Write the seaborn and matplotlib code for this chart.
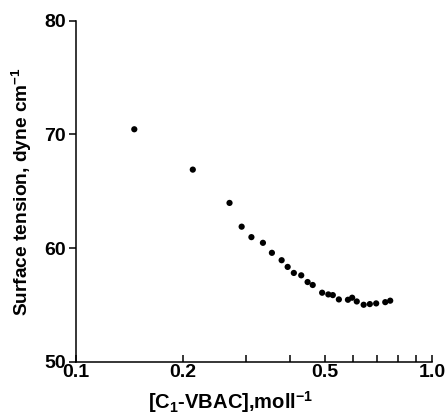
import numpy as np
import pandas as pd
import matplotlib
matplotlib.use("Agg")
import matplotlib.pyplot as plt
import matplotlib.ticker as mticker
import seaborn as sns

# Surface tension vs C1-VBAC concentration
concentration = [0.146, 0.213, 0.270, 0.292, 0.311, 0.335, 0.355, 0.378, 0.393,
                 0.409, 0.429, 0.447, 0.462, 0.491, 0.511, 0.526, 0.547, 0.580,
                 0.596, 0.614, 0.642, 0.668, 0.696, 0.738, 0.762]
surface_tension = [70.45, 66.9, 63.97, 61.88, 60.96, 60.46, 59.58, 58.93, 58.34,
                   57.81, 57.6, 57.01, 56.75, 56.07, 55.92, 55.86, 55.48, 55.45,
                   55.63, 55.3, 55.01, 55.07, 55.13, 55.24, 55.37]
x_major = [0.1, 0.2, 0.5, 1.0]
x_major_labels = ["0.1", "0.2", "0.5", "1.0"]
x_minor = [0.3, 0.4, 0.6, 0.7, 0.8, 0.9]
y_ticks = [50, 60, 70, 80]

df = pd.DataFrame({"conc": concentration, "gamma": surface_tension})

sns.set_style("ticks")
plt.rcParams["font.family"] = ["Liberation Sans", "DejaVu Sans"]
plt.rcParams["font.weight"] = "bold"
plt.rcParams["text.color"] = "black"
plt.rcParams["axes.labelcolor"] = "black"
plt.rcParams["xtick.color"] = "black"
plt.rcParams["ytick.color"] = "black"
plt.rcParams["mathtext.fontset"] = "custom"
plt.rcParams["mathtext.rm"] = "Liberation Sans:bold"
plt.rcParams["mathtext.bf"] = "Liberation Sans:bold"
plt.rcParams["mathtext.default"] = "bf"

fig = plt.figure(figsize=(4.46, 4.16), dpi=100)
ax = fig.add_axes([0.1697, 0.1305, 0.7996, 0.8197])

sns.scatterplot(data=df, x="conc", y="gamma", ax=ax, color="black",
                s=20, edgecolor="none", legend=False)

ax.set_xscale("log")
ax.set_xlim(0.1, 1.0)
ax.set_ylim(50, 80)
ax.xaxis.set_major_locator(mticker.FixedLocator(x_major))
ax.xaxis.set_major_formatter(mticker.FixedFormatter(x_major_labels))
ax.xaxis.set_minor_locator(mticker.FixedLocator(x_minor))
ax.xaxis.set_minor_formatter(mticker.NullFormatter())
ax.set_yticks(y_ticks)

ax.tick_params(axis="x", which="both", direction="in", length=5, width=1.1,
               labelsize=14, pad=2, colors="black")
ax.tick_params(axis="y", direction="out", length=5, width=1.1,
               labelsize=14, pad=2, colors="black")
for lab in ax.get_xticklabels() + ax.get_yticklabels():
    lab.set_fontweight("bold")

sns.despine(ax=ax)
for side in ["left", "bottom"]:
    ax.spines[side].set_linewidth(1.1)
    ax.spines[side].set_color("black")

ax.set_xlabel(r"[C$_1$-VBAC],moll$^{-1}$", fontsize=14.5, fontweight="bold",
              color="black")
ax.set_ylabel(r"Surface tension, dyne cm$^{-1}$", fontsize=13.8,
              fontweight="bold", color="black")
ax.xaxis.set_label_coords(0.435, -0.08)
ax.yaxis.set_label_coords(-0.117, 0.5)

fig.savefig("out.png", dpi=100, facecolor="white")
